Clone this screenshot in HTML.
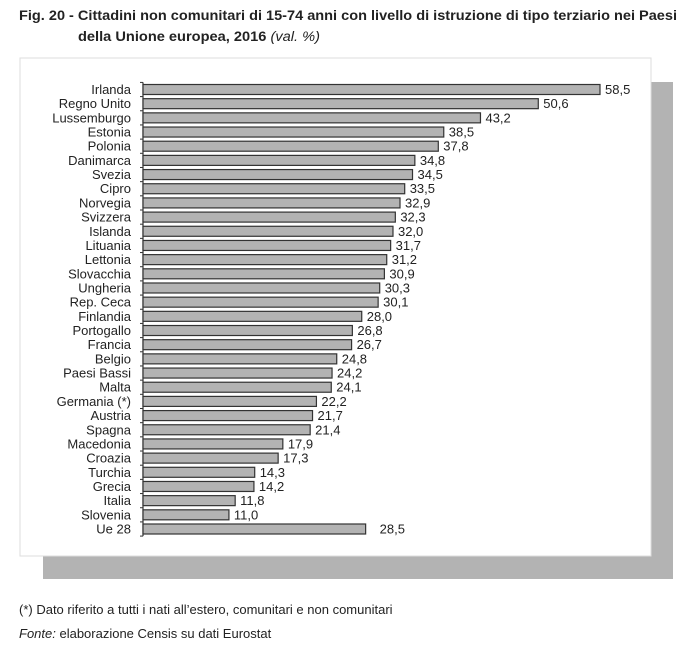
<!DOCTYPE html>
<html><head><meta charset="utf-8"><style>
body{margin:0;background:#fff;}
svg{display:block;font-family:"Liberation Sans",Arial,sans-serif;}
</style></head><body>
<svg width="700" height="650" viewBox="0 0 700 650">
<text x="19" y="20" font-size="13.5" font-weight="bold" fill="#222" textLength="658" lengthAdjust="spacingAndGlyphs">Fig. 20 - Cittadini non comunitari di 15-74 anni con livello di istruzione di tipo terziario nei Paesi</text>
<text x="78" y="41" font-size="13.5" fill="#222" textLength="242" lengthAdjust="spacingAndGlyphs"><tspan font-weight="bold">della Unione europea, 2016 </tspan><tspan font-style="italic">(val. %)</tspan></text>
<rect x="43" y="82" width="630" height="497" fill="#b3b3b3"/>
<rect x="20" y="58" width="631" height="498" fill="#fff" stroke="#ddd" stroke-width="1"/>
<g id="bars"></g>
<text x="19" y="614" font-size="13" fill="#222">(*) Dato riferito a tutti i nati all’estero, comunitari e non comunitari</text>
<text x="19" y="638" font-size="13" fill="#222"><tspan font-style="italic">Fonte:</tspan> elaborazione Censis su dati Eurostat</text>
</svg>
<script>
const categories=["Irlanda","Regno Unito","Lussemburgo","Estonia","Polonia","Danimarca","Svezia","Cipro","Norvegia","Svizzera","Islanda","Lituania","Lettonia","Slovacchia","Ungheria","Rep. Ceca","Finlandia","Portogallo","Francia","Belgio","Paesi Bassi","Malta","Germania (*)","Austria","Spagna","Macedonia","Croazia","Turchia","Grecia","Italia","Slovenia","Ue 28"];
const values=[58.5,50.6,43.2,38.5,37.8,34.8,34.5,33.5,32.9,32.3,32.0,31.7,31.2,30.9,30.3,30.1,28.0,26.8,26.7,24.8,24.2,24.1,22.2,21.7,21.4,17.9,17.3,14.3,14.2,11.8,11.0,28.5];
const valueLabels=values.map(v=>v.toFixed(1).replace('.',','));
const NS="http://www.w3.org/2000/svg";
const g=document.getElementById('bars');
const x0=143, pxPerUnit=457/58.5, yTop=89.5, yBottom=529;
const step=(yBottom-yTop)/(categories.length-1);
const xScale=v=>x0+v*pxPerUnit;
const yScale=i=>yTop+i*step;
function mk(tag,attrs){const e=document.createElementNS(NS,tag);for(const k in attrs)e.setAttribute(k,attrs[k]);g.appendChild(e);return e;}
const axis=mk('line',{x1:x0,y1:yScale(0)-step/2,x2:x0,y2:yScale(categories.length-1)+step/2,stroke:'#333','stroke-width':1.2});


for(let i=0;i<=categories.length;i++){
  const yy=yScale(i)-step/2;
  const t=mk('line',{x1:x0-3,y1:yy,x2:x0,y2:yy,stroke:'#333','stroke-width':1});
  
  
}
categories.forEach((c,i)=>{
  const y=yScale(i);
  const r=mk('rect',{x:x0,y:y-5,width:xScale(values[i])-x0,height:10,fill:'#b3b3b3',stroke:'#333','stroke-width':1.2});
  
  
  const l=mk('text',{x:131,y:y+4.5,'text-anchor':'end','font-size':13,fill:'#222'});
  l.textContent=c;
  
  
  const isTotal=(i===categories.length-1);
  const v=mk('text',{x:xScale(values[i])+(isTotal?14:5),y:y+4.5,'font-size':13,fill:'#222'});
  v.textContent=valueLabels[i];
  
  
});
</script>
</body></html>
